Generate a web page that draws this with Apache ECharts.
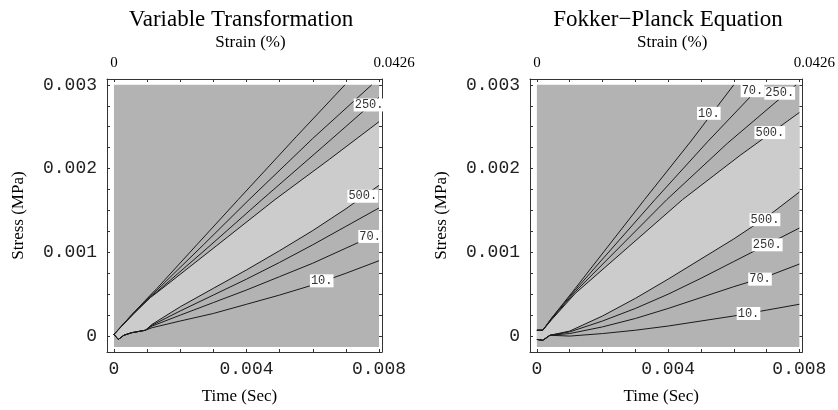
<!DOCTYPE html>
<html>
<head>
<meta charset="utf-8">
<script src="https://cdn.jsdelivr.net/npm/echarts@6/dist/echarts.min.js"></script>
<style>
  html, body { margin: 0; padding: 0; background: #fff; }
  #chart { width: 838px; height: 410px; }
</style>
</head>
<body>
<div id="chart"></div>
<script>
// ---- chart data -------------------------------------------------------
const panelTitles = ['Variable Transformation', 'Fokker\u2212Planck Equation'];

const timeTickValues = [0, 0.004, 0.008];
const timeTickLabels = ['0', '0.004', '0.008'];
const stressTickValues = [0, 0.001, 0.002, 0.003];
const stressTickLabels = ['0', '0.001', '0.002', '0.003'];
const strainTickValues = [0, 0.008];
const strainTickLabels = ['0', '0.0426'];

// contoured domain (time in s, stress in MPa)
const plotTime = [0, 0.008];
const plotStress = [-0.00013, 0.003];

// Variable Transformation: contours on the steep side (levels 10, 70, 250, 500)
const vtUpper10 = [[0, 0.00002], [0.00055, 0.00026], [0.0011, 0.00049], [0.0013, 0.00057], [0.0025, 0.00109], [0.00375, 0.00163], [0.0055, 0.00238], [0.00697, 0.003]];
const vtUpper70 = [[0, 0.00002], [0.00055, 0.00026], [0.0011, 0.00048], [0.0013, 0.00055], [0.0027, 0.00109], [0.00408, 0.00163], [0.006, 0.00236], [0.00778, 0.003]];
const vtUpper250 = [[0, 0.00002], [0.00055, 0.00025], [0.0011, 0.00047], [0.0013, 0.00053], [0.0029, 0.00108], [0.00447, 0.00163], [0.0063, 0.00226], [0.008, 0.00285]];
const vtUpper500 = [[0, 0.00002], [0.00055, 0.00025], [0.0011, 0.00046], [0.0013, 0.00052], [0.0031, 0.00108], [0.00486, 0.00163], [0.0065, 0.00211], [0.008, 0.00256]];
// Variable Transformation: contours on the shallow side
const vtLower500 = [[0, 0.00002], [0.00013, -0.00004], [0.0003, 0.00001], [0.00053, 0.00004], [0.00095, 0.00007], [0.00115, 0.00014], [0.002, 0.00035], [0.003, 0.00057], [0.004, 0.00079], [0.005, 0.00102], [0.006, 0.00126], [0.007, 0.00152], [0.008, 0.0018]];
const vtLower250 = [[0, 0.00002], [0.00013, -0.00004], [0.0003, 0.00001], [0.00053, 0.00004], [0.00095, 0.00007], [0.00115, 0.00013], [0.002, 0.0003], [0.003, 0.00049], [0.004, 0.00068], [0.005, 0.00088], [0.006, 0.00109], [0.007, 0.00131], [0.008, 0.00153]];
const vtLower70 = [[0, 0.00002], [0.00013, -0.00004], [0.0003, 0.00001], [0.00053, 0.00004], [0.00095, 0.00007], [0.00115, 0.00012], [0.002, 0.00025], [0.003, 0.0004], [0.004, 0.00055], [0.005, 0.00071], [0.006, 0.00087], [0.007, 0.00105], [0.008, 0.00123]];
const vtLower10 = [[0, 0.00002], [0.00013, -0.00004], [0.0003, 0.00001], [0.00053, 0.00004], [0.00095, 0.00007], [0.00115, 0.0001], [0.002, 0.00018], [0.003, 0.00027], [0.004, 0.00038], [0.005, 0.00049], [0.006, 0.00061], [0.007, 0.00075], [0.008, 0.0009]];
const vtLabels = [
  { name: '250.', value: [0.0077, 0.00276] },
  { name: '500.', value: [0.00751, 0.00167] },
  { name: '70.', value: [0.00773, 0.00119] },
  { name: '10.', value: [0.00627, 0.00066] }
];

// Fokker-Planck: contours on the steep side
const fpUpper10 = [[0, 0.00007], [0.00018, 0.00007], [0.00046, 0.00022], [0.00117, 0.00057], [0.00328, 0.00163], [0.0047, 0.00233], [0.006, 0.003]];
const fpUpper70 = [[0, 0.00007], [0.00018, 0.00007], [0.00046, 0.00022], [0.00117, 0.00055], [0.0036, 0.00163], [0.0052, 0.00232], [0.00685, 0.003]];
const fpUpper250 = [[0, 0.00007], [0.00018, 0.00007], [0.00046, 0.00021], [0.00117, 0.00053], [0.00396, 0.00163], [0.0058, 0.0023], [0.0079, 0.003]];
const fpUpper500 = [[0, 0.00007], [0.00018, 0.00007], [0.00046, 0.0002], [0.00117, 0.00051], [0.00444, 0.00163], [0.0062, 0.00216], [0.008, 0.00267]];
// Fokker-Planck: contours on the shallow side
const fpLower500 = [[0, -0.00004], [0.00018, -0.00005], [0.0004, 0.00001], [0.001, 0.00006], [0.002, 0.00024], [0.003, 0.00045], [0.004, 0.00068], [0.005, 0.00092], [0.006, 0.00116], [0.007, 0.00142], [0.008, 0.00172]];
const fpLower250 = [[0, -0.00004], [0.00018, -0.00005], [0.0004, 0.00001], [0.001, 0.00005], [0.002, 0.00018], [0.003, 0.00033], [0.004, 0.0005], [0.005, 0.00069], [0.006, 0.00089], [0.007, 0.00109], [0.008, 0.00129]];
const fpLower70 = [[0, -0.00004], [0.00018, -0.00005], [0.0004, 0.00001], [0.001, 0.00003], [0.002, 0.00011], [0.003, 0.00021], [0.004, 0.00033], [0.005, 0.00046], [0.006, 0.00059], [0.007, 0.00071], [0.008, 0.00086]];
const fpLower10 = [[0, -0.00004], [0.00018, -0.00005], [0.0004, 0.00001], [0.001, 0.0], [0.002, 0.00003], [0.003, 0.00007], [0.004, 0.00012], [0.005, 0.00018], [0.006, 0.00024], [0.007, 0.00031], [0.008, 0.00038]];
const fpLabels = [
  { name: '10.', value: [0.00524, 0.00266] },
  { name: '70.', value: [0.00657, 0.00293] },
  { name: '250.', value: [0.0074, 0.0029] },
  { name: '500.', value: [0.0071, 0.00243] },
  { name: '500.', value: [0.00695, 0.00139] },
  { name: '250.', value: [0.00702, 0.00109] },
  { name: '70.', value: [0.0068, 0.00068] },
  { name: '10.', value: [0.00645, 0.00027] }
];

// ---- layout & style ---------------------------------------------------
const panels = [
  { left: 107, titleX: 236, upper: [vtUpper10, vtUpper70, vtUpper250, vtUpper500], lower: [vtLower500, vtLower250, vtLower70, vtLower10], labels: vtLabels },
  { left: 530, titleX: 663, upper: [fpUpper10, fpUpper70, fpUpper250, fpUpper500], lower: [fpLower500, fpLower250, fpLower70, fpLower10], labels: fpLabels }
];
const GRID_TOP = 79, GRID_W = 275, GRID_H = 274;
const X_RANGE = [-0.00021, 0.00809];
const Y_RANGE = [-0.00019, 0.00307];
const DARK = '#b3b3b3', LIGHT = '#cccccc', INK = '#1a1a1a';
const serif = 'Liberation Serif, Times New Roman, serif';
const mono = 'Liberation Mono, Courier New, monospace';

function range(a, b, step) {
  const out = [];
  for (let i = 0; a + i * step <= b + 1e-12; i++) out.push(+(a + i * step).toFixed(6));
  return out;
}
const timeMinorTicks = range(0, 0.008, 0.001);
const stressMinorTicks = range(0, 0.003, 0.00025);

function labelFrom(values, labels) {
  return v => {
    const i = values.findIndex(t => Math.abs(t - v) < 1e-9);
    return i >= 0 ? labels[i] : '';
  };
}

const grids = [], xAxes = [], yAxes = [], series = [], titles = [];

panels.forEach((p, g) => {
  grids.push({ left: p.left, top: GRID_TOP, width: GRID_W, height: GRID_H, containLabel: false });
  titles.push({
    text: panelTitles[g], left: p.titleX, top: 3, textAlign: 'center',
    textStyle: { fontFamily: serif, fontSize: 23, fontWeight: 'normal', color: '#000' }
  });
  const frameLine = { show: true, onZero: false, lineStyle: { color: '#333', width: 1 } };
  // bottom: time
  xAxes.push({
    gridIndex: g, type: 'value', position: 'bottom', min: X_RANGE[0], max: X_RANGE[1],
    axisLine: frameLine,
    axisTick: { show: true, inside: true, length: 3, customValues: timeMinorTicks, lineStyle: { color: '#333' } },
    axisLabel: { customValues: timeTickValues, formatter: labelFrom(timeTickValues, timeTickLabels), fontFamily: mono, fontSize: 18, color: '#222', margin: 8 },
    splitLine: { show: false },
    name: 'Time (Sec)', nameLocation: 'middle', nameGap: 36,
    nameTextStyle: { fontFamily: serif, fontSize: 17, color: '#000', padding: [0, 10, 0, 0] }
  });
  // top: strain
  xAxes.push({
    gridIndex: g, type: 'value', position: 'top', min: X_RANGE[0], max: X_RANGE[1],
    axisLine: frameLine,
    axisTick: { show: true, inside: true, length: 3, customValues: timeMinorTicks, lineStyle: { color: '#333' } },
    axisLabel: {
      customValues: strainTickValues,
      formatter: v => {
        const s = labelFrom(strainTickValues, strainTickLabels)(v);
        return v > 0 ? '{end|' + s + '}' : s;
      },
      fontFamily: serif, fontSize: 15, color: '#000', margin: 8,
      rich: { end: { fontFamily: serif, fontSize: 15, color: '#000', padding: [0, 0, 0, 30] } }
    },
    splitLine: { show: false },
    name: 'Strain (%)', nameLocation: 'middle', nameGap: 26,
    nameTextStyle: { fontFamily: serif, fontSize: 17, color: '#000', padding: [0, 0, 0, 12] }
  });
  // left: stress
  yAxes.push({
    gridIndex: g, type: 'value', position: 'left', min: Y_RANGE[0], max: Y_RANGE[1],
    axisLine: frameLine,
    axisTick: { show: true, inside: true, length: 3, customValues: stressMinorTicks, lineStyle: { color: '#333' } },
    axisLabel: { customValues: stressTickValues, formatter: labelFrom(stressTickValues, stressTickLabels), fontFamily: mono, fontSize: 18, color: '#222', margin: 10 },
    splitLine: { show: false },
    name: 'Stress (MPa)', nameLocation: 'middle', nameGap: 80,
    nameTextStyle: { fontFamily: serif, fontSize: 17, color: '#000' }
  });
  // right: frame only
  yAxes.push({
    gridIndex: g, type: 'value', position: 'right', min: Y_RANGE[0], max: Y_RANGE[1],
    axisLine: frameLine,
    axisTick: { show: true, inside: true, length: 3, customValues: stressMinorTicks, lineStyle: { color: '#333' } },
    axisLabel: { show: false },
    splitLine: { show: false }
  });

  const xi = 2 * g, yi = 2 * g;
  // shaded background of the contoured domain
  series.push({
    type: 'custom', xAxisIndex: xi, yAxisIndex: yi, silent: true, z: 1, data: [0],
    renderItem: (params, api) => {
      const a = api.coord([plotTime[0], plotStress[1]]);
      const b = api.coord([plotTime[1], plotStress[0]]);
      return { type: 'rect', shape: { x: a[0], y: a[1], width: b[0] - a[0], height: b[1] - a[1] }, style: { fill: DARK } };
    }
  });
  // lighter band between the two 500 contours
  const band = p.upper[3].concat(p.lower[0].slice().reverse());
  series.push({
    type: 'custom', xAxisIndex: xi, yAxisIndex: yi, silent: true, z: 2, data: [0],
    renderItem: (params, api) => ({
      type: 'polygon', shape: { points: band.map(pt => api.coord(pt)) }, style: { fill: LIGHT }
    })
  });
  // contour lines
  p.upper.concat(p.lower).forEach(line => {
    series.push({
      type: 'line', xAxisIndex: xi, yAxisIndex: yi, data: line, showSymbol: false, symbol: 'none',
      silent: true, z: 3, lineStyle: { color: INK, width: 1 }, animation: false
    });
  });
  // contour level labels
  series.push({
    type: 'custom', xAxisIndex: xi, yAxisIndex: yi, silent: true, z: 5, data: p.labels.map(l => l.value),
    renderItem: (params, api) => {
      const pt = api.coord([api.value(0), api.value(1)]);
      return {
        type: 'text', x: pt[0], y: pt[1], z2: 10,
        style: {
          text: p.labels[params.dataIndex].name, align: 'center', verticalAlign: 'middle',
          fontFamily: mono, fontSize: 12, fill: '#333',
          backgroundColor: '#fff', padding: [1, 1, 0, 1]
        }
      };
    }
  });
});

const chart = echarts.init(document.getElementById('chart'), null, { renderer: 'canvas' });
chart.setOption({
  animation: false,
  backgroundColor: '#fff',
  title: titles,
  grid: grids,
  xAxis: xAxes,
  yAxis: yAxes,
  series: series
});
</script>
</body>
</html>
